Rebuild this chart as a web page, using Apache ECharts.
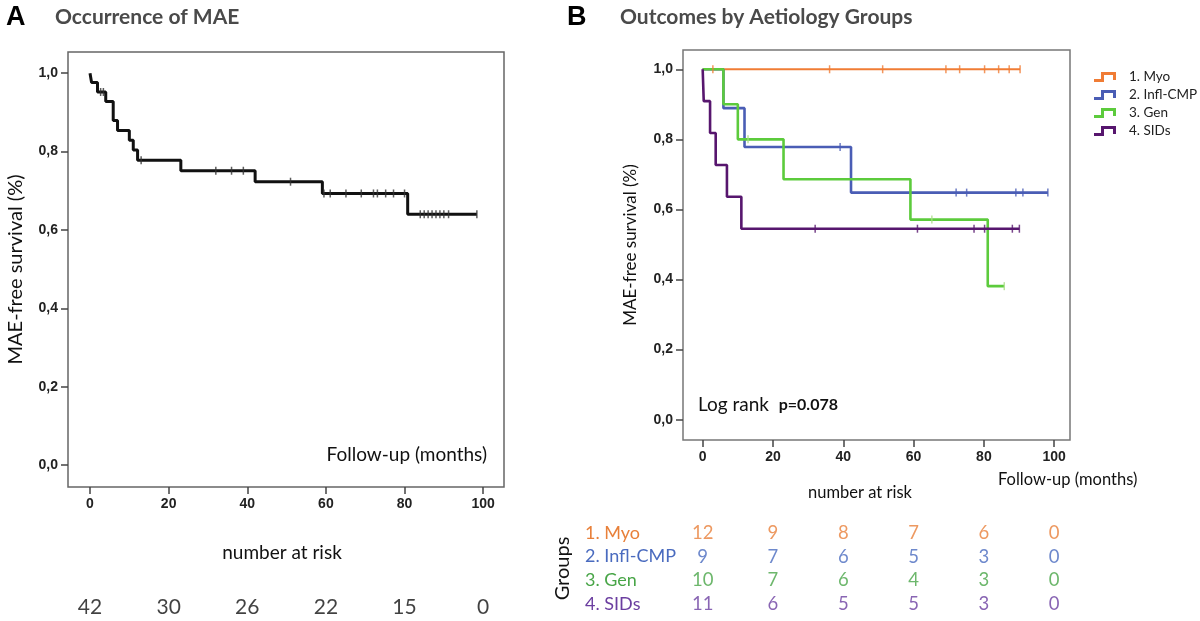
<!DOCTYPE html>
<html>
<head>
<meta charset="utf-8">
<script src="https://cdn.jsdelivr.net/npm/echarts@6/dist/echarts.min.js"></script>
<style>
  html, body { margin: 0; padding: 0; background: #fff; }
  #chart { width: 1200px; height: 621px; }
</style>
</head>
<body>
<div id="chart"></div>
<script>
// axis ticks (both panels)
const xTicks = [0, 20, 40, 60, 80, 100]
const yTicks = [0, 0.2, 0.4, 0.6, 0.8, 1.0]

// Panel A: all patients
const eventTimesA = [0.4, 1.9, 4.0, 5.9, 7.0, 10.0, 11.0, 12.1, 23.1, 42.0, 59.1, 80.8]
const survA = [0.976, 0.952, 0.928, 0.879, 0.854, 0.829, 0.804, 0.778, 0.751, 0.723, 0.693, 0.640]
const censorA = [2.7, 3.4, 13.0, 32.0, 36.0, 39.0, 51.0, 59.5, 61.1, 65.1, 69.0, 72.1, 73.1, 75.2, 77.2, 80.0,
  84, 85, 86, 87, 88, 89, 90, 91.2, 98.4]
const riskA = [42, 30, 26, 22, 15, 0]

// Panel B: aetiology groups
const groupNames = ['1. Myo', '2. Infl-CMP', '3. Gen', '4. SIDs']
const eventTimesMyo = []
const survMyo = []
const censorMyo = [2.9, 36.1, 51.2, 69.2, 73.1, 80.2, 84.2, 87.2, 90.3]
const eventTimesInfl = [5.9, 11.9, 42.2]
const survInfl = [0.889, 0.778, 0.648]
const censorInfl = [39.1, 72.1, 75.1, 89.1, 91.1, 98.2]
const eventTimesGen = [5.9, 10.0, 23.0, 59.1, 81.1]
const survGen = [0.9, 0.8, 0.686, 0.571, 0.381]
const censorGen = [12.9, 65.2, 85.8]
const eventTimesSIDs = [0.3, 2.1, 3.7, 6.9, 11.0]
const survSIDs = [0.909, 0.818, 0.727, 0.636, 0.545]
const censorSIDs = [32.0, 61.1, 77.2, 80.2, 88.1, 90.1]
const riskMyo = [12, 9, 8, 7, 6, 0]
const riskInfl = [9, 7, 6, 5, 3, 0]
const riskGen = [10, 7, 6, 4, 3, 0]
const riskSIDs = [11, 6, 5, 5, 3, 0]

const lineColors = ['#F07C35', '#4A5DB5', '#5CCB3C', '#57166E']
const censorColors = ['#F07C35', '#4A5DB5', '#A9DD86', '#57166E']
const tableColors = ['#E8803A', '#4A6BBF', '#48A547', '#6B3EA0']

const tickFont = 'Liberation Sans Narrow, Liberation Sans, Arial, sans-serif'
const textFont = 'Lato, Open Sans, sans-serif'

// survival at time t from a step function
const survAt = (times, surv, t) => {
  let s = 1
  times.forEach((e, i) => { if (e <= t) s = surv[i] })
  return s
}

const curveData = (times, surv, censors) => {
  const pts = [[0, 1]]
  times.forEach((t, i) => pts.push([t, surv[i]]))
  const end = Math.max(...censors, ...times)
  pts.push([end, survAt(times, surv, end)])
  return pts
}

const censorData = (times, surv, censors) => censors.map(t => [t, survAt(times, surv, t)])

const commaFmt = v => v.toFixed(1).replace('.', ',')

const makeXAxis = (gridIndex, min, max) => ({
  type: 'value', gridIndex, min, max,
  axisLine: { show: false, onZero: false },
  splitLine: { show: false },
  axisTick: { show: true, length: 7, customValues: xTicks, lineStyle: { color: '#444', width: 1.5 } },
  axisLabel: { customValues: xTicks, margin: 10, fontFamily: tickFont, fontWeight: 'bold', fontSize: 14, color: '#222' }
})

const makeYAxis = (gridIndex, min, max, name, nameGap, nameSize) => ({
  type: 'value', gridIndex, min, max,
  name, nameLocation: 'middle', nameRotate: 90, nameGap,
  nameTextStyle: { fontFamily: textFont, fontSize: nameSize, color: '#111' },
  axisLine: { show: false, onZero: false },
  splitLine: { show: false },
  axisTick: { show: true, length: 7, customValues: yTicks, lineStyle: { color: '#444', width: 1.5 } },
  axisLabel: { customValues: yTicks, margin: 10, formatter: commaFmt, fontFamily: tickFont, fontWeight: 'bold', fontSize: 14, color: '#222' }
})

const groupTimes = [eventTimesMyo, eventTimesInfl, eventTimesGen, eventTimesSIDs]
const groupSurv = [survMyo, survInfl, survGen, survSIDs]
const groupCensor = [censorMyo, censorInfl, censorGen, censorSIDs]
const groupRisk = [riskMyo, riskInfl, riskGen, riskSIDs]

const series = []

// Panel A curve
series.push({
  name: 'all', type: 'line', xAxisIndex: 0, yAxisIndex: 0, step: 'end', showSymbol: false,
  data: curveData(eventTimesA, survA, censorA),
  lineStyle: { color: '#111', width: 3 }, z: 3
})
series.push({
  name: 'all censored', type: 'scatter', xAxisIndex: 0, yAxisIndex: 0,
  symbol: 'rect', symbolSize: [1.5, 8],
  itemStyle: { color: '#333' },
  data: censorData(eventTimesA, survA, censorA), z: 4
})

// Panel B curves
groupNames.forEach((g, i) => {
  series.push({
    name: g, type: 'line', xAxisIndex: 1, yAxisIndex: 1, step: 'end', showSymbol: false,
    data: curveData(groupTimes[i], groupSurv[i], groupCensor[i]),
    color: lineColors[i],
    lineStyle: { color: lineColors[i], width: i === 0 ? 2 : 2.6 }, z: 3 + i
  })
  series.push({
    name: g + ' censored', type: 'scatter', xAxisIndex: 1, yAxisIndex: 1,
    symbol: 'rect', symbolSize: [1.5, 8],
    itemStyle: { color: censorColors[i] },
    data: censorData(groupTimes[i], groupSurv[i], groupCensor[i]), z: 8
  })
})

// number at risk, panel A
series.push({
  name: 'risk A', type: 'scatter', xAxisIndex: 2, yAxisIndex: 2,
  symbolSize: 1, itemStyle: { color: 'rgba(0,0,0,0)' },
  data: xTicks.map((t, i) => [t, 'all', riskA[i]]),
  label: { show: true, position: 'inside', formatter: p => p.value[2], fontFamily: textFont, fontSize: 21, color: '#111' }
})

// number at risk, panel B
groupNames.forEach((g, i) => {
  series.push({
    name: 'risk ' + g, type: 'scatter', xAxisIndex: 3, yAxisIndex: 3,
    symbolSize: 1, itemStyle: { color: 'rgba(0,0,0,0)' },
    data: xTicks.map((t, k) => [t, g, groupRisk[i][k]]),
    label: { show: true, position: 'inside', formatter: p => p.value[2], fontFamily: textFont, fontSize: 18.5, color: tableColors[i] }
  })
})

const legendIcon = 'path://M0,7 L7,7 L7,0 L22,0 L22,8 L19,8 L19,3 L10,3 L10,10 L0,10 Z'

const option = {
  animation: false,
  backgroundColor: '#fff',
  grid: [
    { left: 68, right: 696, top: 52, bottom: 134, show: true, borderColor: '#666', borderWidth: 1.5, backgroundColor: '#fff' },
    { left: 683, right: 130, top: 50, bottom: 181, show: true, borderColor: '#777', borderWidth: 1.5, backgroundColor: '#fff' },
    { left: 68, right: 696, top: 594, height: 26 },
    { left: 683, right: 130, top: 521, height: 95 }
  ],
  xAxis: [
    makeXAxis(0, -5.6, 105.3),
    makeXAxis(1, -5.6, 104.5),
    { type: 'value', gridIndex: 2, min: -5.6, max: 105.3, show: false },
    { type: 'value', gridIndex: 3, min: -5.6, max: 104.5, show: false }
  ],
  yAxis: [
    makeYAxis(0, -0.056, 1.054, 'MAE-free survival (%)', 42, 20),
    makeYAxis(1, -0.058, 1.055, 'MAE-free survival (%)', 44, 17),
    { type: 'category', gridIndex: 2, data: ['all'], show: false },
    {
      type: 'category', gridIndex: 3, data: groupNames, inverse: true,
      name: 'Groups', nameLocation: 'middle', nameRotate: 90, nameGap: 110,
      nameTextStyle: { fontFamily: textFont, fontSize: 20, color: '#111' },
      axisLine: { show: false }, axisTick: { show: false }, splitLine: { show: false },
      axisLabel: {
        interval: 0, align: 'left', margin: 98, fontFamily: textFont, fontSize: 18,
        color: v => tableColors[groupNames.indexOf(v)]
      }
    }
  ],
  legend: {
    data: groupNames, orient: 'vertical', left: 1089, top: 65,
    icon: legendIcon, itemWidth: 22, itemHeight: 10, itemGap: 4,
    textStyle: { fontFamily: textFont, fontSize: 13.5, color: '#222', padding: [0, 0, 0, 8] }
  },
  graphic: [
    { type: 'text', x: 6, y: 4, style: { text: 'A', font: 'bold 27px Liberation Sans, Arial, sans-serif', fill: '#000' } },
    { type: 'text', x: 55, y: 7, style: { text: 'Occurrence of MAE', font: 'bold 21px ' + textFont, fill: '#4a4a4a' } },
    { type: 'text', x: 567, y: 4, style: { text: 'B', font: 'bold 27px Liberation Sans, Arial, sans-serif', fill: '#000' } },
    { type: 'text', x: 620, y: 7, style: { text: 'Outcomes by Aetiology Groups', font: 'bold 21px ' + textFont, fill: '#4a4a4a' } },
    { type: 'text', x: 487, y: 455, style: { text: 'Follow-up (months)', font: '19px ' + textFont, fill: '#111', align: 'right', verticalAlign: 'middle' } },
    { type: 'text', x: 282, y: 553, style: { text: 'number at risk', font: '19px ' + textFont, fill: '#111', align: 'center', verticalAlign: 'middle' } },
    { type: 'text', x: 998, y: 480, style: { text: 'Follow-up (months)', font: '16.5px ' + textFont, fill: '#111', align: 'left', verticalAlign: 'middle' } },
    { type: 'text', x: 860, y: 493, style: { text: 'number at risk', font: '16.5px ' + textFont, fill: '#111', align: 'center', verticalAlign: 'middle' } },
    {
      type: 'text', x: 698, y: 405,
      style: {
        text: '{n|Log rank  }{b|p=0.078}', verticalAlign: 'middle',
        rich: {
          n: { fontFamily: textFont, fontSize: 19, fill: '#111', color: '#111' },
          b: { fontFamily: textFont, fontSize: 16, fontWeight: 'bold', fill: '#111', color: '#111' }
        }
      }
    }
  ],
  series
}

const chart = echarts.init(document.getElementById('chart'))
chart.setOption(option)
</script>
</body>
</html>
